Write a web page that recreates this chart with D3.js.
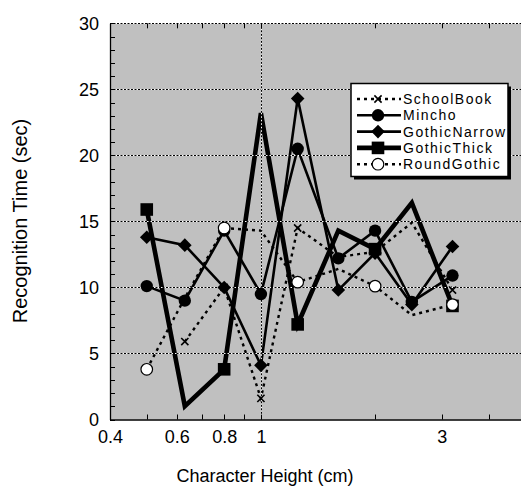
<!DOCTYPE html>
<html><head><meta charset="utf-8">
<script src="https://cdn.jsdelivr.net/npm/d3@7"></script>
<style>body{margin:0;background:#fff;} svg{display:block;}</style>
</head><body><svg id="c" width="521" height="486"></svg>
<script>
// ---- data ----
const heights = [0.5, 0.63, 0.8, 1.0, 1.25, 1.6, 2.0, 2.5, 3.2];
const schoolBook   = [null, 5.9, 10.0, 1.6, 14.5, 12.3, 12.7, 14.9, 9.8];
const mincho       = [10.1, 9.0, 14.3, 9.5, 20.5, 12.2, 14.3, 8.9, 10.9];
const gothicNarrow = [13.8, 13.2, 10.0, 4.1, 24.3, 9.8, 12.6, 8.7, 13.1];
const gothicThick  = [15.9, 1.0, 3.8, 23.2, 7.2, 14.3, 12.9, 16.4, 8.6];
const roundGothic  = [3.8, 9.2, 14.5, 14.3, 10.4, 11.4, 10.1, 7.9, 8.7];
// heights at which a marker is drawn
const schoolBookMarks   = [0.63, 0.8, 1.0, 1.25, 1.6, 2.0, 3.2];
const minchoMarks       = heights;
const gothicNarrowMarks = heights;
const gothicThickMarks  = [0.5, 0.8, 1.25, 2.0, 3.2];
const roundGothicMarks  = [0.5, 0.8, 1.25, 2.0, 3.2];
const seriesNames = ["SchoolBook", "Mincho", "GothicNarrow", "GothicThick", "RoundGothic"];
const yTickValues = [0, 5, 10, 15, 20, 25, 30];
const xTickLabels = [0.4, 0.6, 0.8, 1, 3];
const xMinorTicks = [0.4, 0.5, 0.6, 0.7, 0.8, 0.9, 1, 2, 3, 4, 5];

const styles = {
  SchoolBook:   {sym:"cross",   dash:"3,4", w:2.4},
  Mincho:       {sym:"circle",  dash:null,  w:2.6},
  GothicNarrow: {sym:"diamond", dash:null,  w:2.6},
  GothicThick:  {sym:"square",  dash:null,  w:4.6},
  RoundGothic:  {sym:"ocircle", dash:"3,4", w:2.4}
};
const series = [
  {name:seriesNames[0], values:schoolBook,   marks:schoolBookMarks},
  {name:seriesNames[1], values:mincho,       marks:minchoMarks},
  {name:seriesNames[2], values:gothicNarrow, marks:gothicNarrowMarks},
  {name:seriesNames[3], values:gothicThick,  marks:gothicThickMarks},
  {name:seriesNames[4], values:roundGothic,  marks:roundGothicMarks}
];

const FONT = "'Liberation Sans', Arial, Helvetica, sans-serif";
const svg = d3.select("#c");
const L = 110, R = 526, T = 23.3, B = 419.5;
const x = d3.scaleLog().domain([0.4, 5]).range([L, R]);
const y = d3.scaleLinear().domain([0, 30]).range([B, T]);

// plot background
svg.append("rect").attr("x", L).attr("y", T).attr("width", R - L).attr("height", B - T).attr("fill", "#c0c0c0");

function drawSymbol(g, sym, cx, cy) {
  if (sym === "circle") {
    g.append("circle").attr("cx", cx).attr("cy", cy).attr("r", 6.2).attr("fill", "#000");
  } else if (sym === "ocircle") {
    g.append("circle").attr("cx", cx).attr("cy", cy).attr("r", 5.8).attr("fill", "#fff").attr("stroke", "#000").attr("stroke-width", 1.2);
  } else if (sym === "square") {
    g.append("rect").attr("x", cx - 6.3).attr("y", cy - 6.3).attr("width", 12.6).attr("height", 12.6).attr("fill", "#000");
  } else if (sym === "diamond") {
    const s = 6.8;
    g.append("path").attr("d", `M${cx},${cy - s}L${cx + s},${cy}L${cx},${cy + s}L${cx - s},${cy}Z`).attr("fill", "#000");
  } else if (sym === "cross") {
    const s = 3.6;
    g.append("path").attr("d", `M${cx - s},${cy - s}L${cx + s},${cy + s}M${cx - s},${cy + s}L${cx + s},${cy - s}`)
      .attr("stroke", "#000").attr("stroke-width", 1.6).attr("fill", "none");
  }
}

// series lines
const line = d3.line().defined(d => d[1] != null).x(d => x(d[0])).y(d => y(d[1]));
const linesG = svg.append("g");
series.forEach(s => {
  const st = styles[s.name];
  const pts = heights.map((h, i) => [h, s.values[i]]);
  linesG.append("path").attr("d", line(pts)).attr("fill", "none").attr("stroke", "#000")
    .attr("stroke-width", st.w).attr("stroke-linejoin", "miter")
    .attr("stroke-dasharray", st.dash).attr("stroke-linecap", st.dash ? "butt" : "butt");
});

// grid lines (white underlay + black dots)
const gridG = svg.append("g");
function gridLine(x1, y1, x2, y2) {
  gridG.append("line").attr("x1", x1).attr("y1", y1).attr("x2", x2).attr("y2", y2).attr("stroke", "#fff").attr("stroke-width", 1);
  gridG.append("line").attr("x1", x1).attr("y1", y1).attr("x2", x2).attr("y2", y2).attr("stroke", "#000").attr("stroke-width", 1).attr("stroke-dasharray", "2,1.5");
}
yTickValues.filter(v => v > 0 && v < 30).forEach(v => gridLine(L, Math.round(y(v)) + 0.5, R, Math.round(y(v)) + 0.5));
gridLine(Math.round(x(1)) + 0.5, T, Math.round(x(1)) + 0.5, B);
gridLine(L, Math.round(T) + 0.5, R, Math.round(T) + 0.5);

// markers
const markG = svg.append("g");
series.forEach(s => {
  const st = styles[s.name];
  heights.forEach((h, i) => {
    if (s.values[i] == null || !s.marks.includes(h)) return;
    drawSymbol(markG, st.sym, x(h), y(s.values[i]));
  });
});

// axes
const yAxis = d3.axisLeft(y).tickValues(yTickValues).tickSize(0).tickPadding(11).tickFormat(d3.format("d"));
const gy = svg.append("g").attr("transform", `translate(${L},0)`).call(yAxis);
gy.select(".domain").attr("stroke", "#000").attr("stroke-width", 1.3);
gy.selectAll("text").attr("font-family", FONT).attr("font-size", 18).attr("fill", "#000");

const yMinor = d3.range(0, 31);
svg.append("g").selectAll("line").data(yMinor).join("line")
  .attr("x1", L).attr("x2", L + 5).attr("y1", d => Math.round(y(d)) + 0.5).attr("y2", d => Math.round(y(d)) + 0.5)
  .attr("stroke", "#000").attr("stroke-width", 1);

const xAxis = d3.axisBottom(x).tickValues(xTickLabels).tickSize(0).tickPadding(11).tickFormat(d3.format("~g"));
const gx = svg.append("g").attr("transform", `translate(0,${B})`).call(xAxis);
gx.select(".domain").attr("stroke", "#000").attr("stroke-width", 1.5);
gx.selectAll("text").attr("font-family", FONT).attr("font-size", 18).attr("fill", "#000");

svg.append("g").selectAll("line").data(xMinorTicks).join("line")
  .attr("x1", d => Math.round(x(d)) + 0.5).attr("x2", d => Math.round(x(d)) + 0.5)
  .attr("y1", B).attr("y2", B - 5).attr("stroke", "#000").attr("stroke-width", 1);
svg.append("g").selectAll("line").data(xMinorTicks).join("line")
  .attr("x1", d => Math.round(x(d)) + 0.5).attr("x2", d => Math.round(x(d)) + 0.5)
  .attr("y1", T).attr("y2", T + 5).attr("stroke", "#000").attr("stroke-width", 1);

// axis titles
svg.append("text").attr("x", 265).attr("y", 482).attr("text-anchor", "middle")
  .attr("font-family", FONT).attr("font-size", 18).text("Character Height (cm)");
svg.append("text").attr("transform", "translate(27,221) rotate(-90)").attr("text-anchor", "middle")
  .attr("font-family", FONT).attr("font-size", 20).text("Recognition Time (sec)");

// legend
const lx = 351, ly = 83.5, lw = 157, lh = 93;
const lg = svg.append("g");
lg.append("rect").attr("x", lx + 3).attr("y", ly + 3).attr("width", lw).attr("height", lh).attr("fill", "#000");
lg.append("rect").attr("x", lx).attr("y", ly).attr("width", lw).attr("height", lh).attr("fill", "#fff").attr("stroke", "#000").attr("stroke-width", 1.5);
series.forEach((s, i) => {
  const st = styles[s.name];
  const cy = 99 + i * 16.3;
  lg.append("line").attr("x1", 357).attr("x2", 401).attr("y1", cy).attr("y2", cy)
    .attr("stroke", "#000").attr("stroke-width", st.w).attr("stroke-dasharray", st.dash);
  if (st.sym === "ocircle") {
    lg.append("rect").attr("x", 372).attr("y", cy - 3).attr("width", 12).attr("height", 6).attr("fill", "#fff");
  }
  drawSymbol(lg, st.sym, 378, cy);
  lg.append("text").attr("x", 403).attr("y", cy + 5).attr("font-family", FONT).attr("font-size", 14)
    .attr("letter-spacing", 1.5).text(s.name);
});
</script></body></html>
